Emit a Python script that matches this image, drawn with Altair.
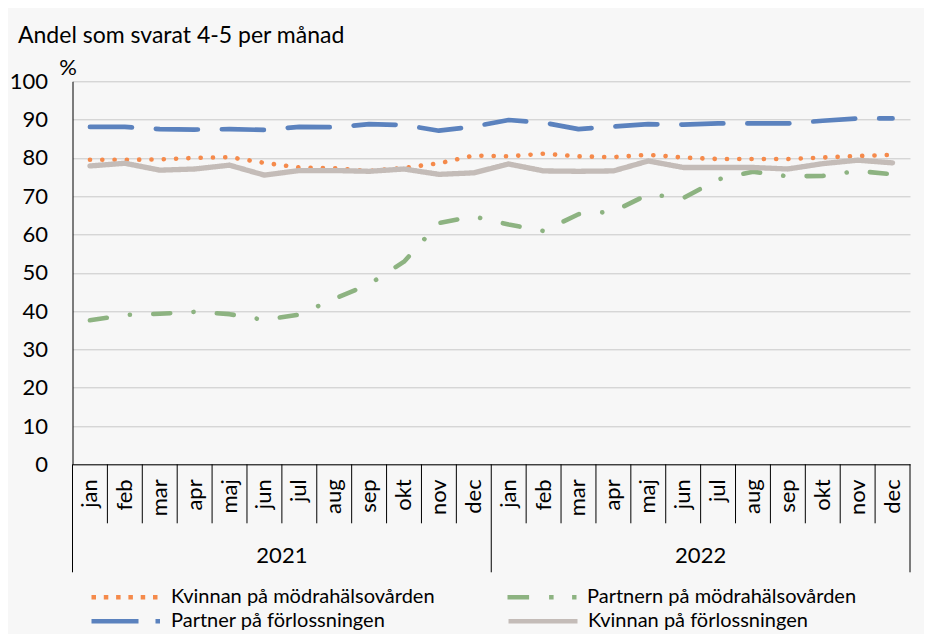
import altair as alt
import pandas as pd

FONT = "Lato"

months = ["jan", "feb", "mar", "apr", "maj", "jun", "jul", "aug", "sep", "okt", "nov", "dec"]
years = ["2021", "2022"]
series_names = [
    "Kvinnan på mödrahälsovården",
    "Partnern på mödrahälsovården",
    "Partner på förlossningen",
    "Kvinnan på förlossningen",
]

kvinnan_modra = [79.5, 79.5, 79.6, 80.0, 80.2, 78.7, 77.5, 77.3, 76.6, 77.4, 78.6, 80.6,
                 80.4, 81.1, 80.4, 80.2, 80.8, 80.1, 79.7, 79.7, 79.7, 80.1, 80.5, 80.8]
partnern_modra = [37.6, 39.0, 39.3, 39.8, 39.2, 37.7, 39.1, 43.2, 47.0, 52.9, 63.0, 64.7,
                  62.6, 60.9, 65.3, 66.0, 70.5, 69.5, 74.4, 76.4, 75.2, 75.3, 76.6, 75.7]
partner_forl = [88.1, 88.1, 87.5, 87.4, 87.5, 87.3, 88.1, 88.0, 88.8, 88.6, 87.1, 88.2,
                89.9, 89.2, 87.5, 88.2, 88.8, 88.7, 89.0, 89.0, 89.0, 89.7, 90.3, 90.3]
kvinnan_forl = [77.9, 78.6, 76.8, 77.1, 78.1, 75.5, 76.7, 76.7, 76.5, 77.1, 75.7, 76.1,
                78.4, 76.6, 76.5, 76.6, 79.2, 77.5, 77.5, 77.5, 77.1, 78.5, 79.4, 78.7]

series_values = [kvinnan_modra, partnern_modra, partner_forl, kvinnan_forl]

colors = ["#f58a4b", "#8db381", "#5b82be", "#c4bcb8"]
line_dashes = [[0.1, 12.2], [17, 23.3, 0.1, 23.3], [42, 24], [1, 0]]
line_widths = [4.6, 4.6, 4.7, 5.3]
legend_dashes = [[4.5, 7.8], [21.6, 20, 4.5, 18.5, 4.5, 100], [47, 17, 4.5, 100], [1, 0]]

title_text = "Andel som svarat 4-5 per månad"
unit_text = "%"

n = len(months) * len(years)

x_enc = alt.X(
    "pos:Q",
    scale=alt.Scale(domain=[0, n], nice=False, zero=False),
    axis=alt.Axis(labels=False, ticks=False, grid=False, domainColor="#000000",
                  domainWidth=1, title=None),
)
y_enc = alt.Y(
    "value:Q",
    scale=alt.Scale(domain=[0, 100], nice=False),
    axis=alt.Axis(values=list(range(0, 101, 10)), title=None, grid=True,
                  gridColor="#c8c8c8", gridWidth=1, domainColor="#000000",
                  ticks=False, labelPadding=25, labelFont=FONT, labelFontSize=22,
                  labelColor="#000000"),
)

layers = []
for i, name in enumerate(series_names):
    df = pd.DataFrame({"pos": [k + 0.5 for k in range(n)],
                       "value": series_values[i],
                       "series": [name] * n})
    layers.append(
        alt.Chart(df).mark_line(
            color=colors[i], strokeWidth=line_widths[i], strokeDash=line_dashes[i],
            strokeCap="round", strokeJoin="round"
        ).encode(x=x_enc, y=y_enc)
    )


def legend_layer(idx, legend_y, col_pad):
    names = [series_names[j] for j in idx]
    df_leg = pd.DataFrame({"pos": [0.5], "value": [0.0], "series": [names[0]]})
    leg = alt.Legend(
        orient="none", legendX=16.5, legendY=legend_y, direction="horizontal",
        symbolType="stroke", symbolSize=4761, symbolStrokeWidth=4.5,
        labelFont=FONT, labelFontSize=20, labelColor="#000000", labelLimit=600,
        labelOffset=8, columnPadding=col_pad, title=None, padding=0,
    )
    return alt.Chart(df_leg).transform_filter("false").mark_line().encode(
        x=x_enc, y=y_enc,
        color=alt.Color("series:N",
                        scale=alt.Scale(domain=names, range=[colors[j] for j in idx]),
                        legend=leg),
        strokeDash=alt.StrokeDash("series:N",
                                  scale=alt.Scale(domain=names,
                                                  range=[legend_dashes[j] for j in idx]),
                                  legend=leg),
    )


legend_row1 = legend_layer([0, 1], 479, 63)
legend_row2 = legend_layer([2, 3], 503, 113)

# month separators and year separators
df_sep = pd.DataFrame({"pos": list(range(n + 1))})
df_sep["long"] = df_sep["pos"] % 12 == 0
seps_short = (alt.Chart(df_sep).transform_filter("!datum.long")
              .mark_rule(color="#000000", strokeWidth=1)
              .encode(x=x_enc, y=alt.value(383), y2=alt.value(442)))
seps_long = (alt.Chart(df_sep).transform_filter("datum.long")
             .mark_rule(color="#000000", strokeWidth=1)
             .encode(x=x_enc, y=alt.value(383), y2=alt.value(491)))

# month labels
df_months = pd.DataFrame({"pos": [k + 0.5 for k in range(n)],
                          "label": [months[k % 12] for k in range(n)]})
month_text = (alt.Chart(df_months)
              .mark_text(angle=270, align="right", baseline="middle",
                         font=FONT, fontSize=22, color="#000000")
              .encode(x=x_enc, y=alt.value(398), text="label:N"))

# year labels
df_years = pd.DataFrame({"pos": [6, 18], "label": years})
year_text = (alt.Chart(df_years)
             .mark_text(align="center", baseline="middle",
                        font=FONT, fontSize=22, color="#000000")
             .encode(x=x_enc, y=alt.value(475), text="label:N"))

# title and unit
df_title = pd.DataFrame({"t": [title_text]})
title_mark = (alt.Chart(df_title)
              .mark_text(align="left", baseline="alphabetic",
                         font=FONT, fontSize=23, color="#000000")
              .encode(x=alt.value(-54.5), y=alt.value(-38.3), text="t:N"))
df_unit = pd.DataFrame({"t": [unit_text]})
unit_mark = (alt.Chart(df_unit)
             .mark_text(align="center", baseline="middle",
                        font=FONT, fontSize=22, color="#000000")
             .encode(x=alt.value(-4.5), y=alt.value(-13), text="t:N"))

chart = alt.layer(
    *layers, legend_row1, legend_row2, seps_short, seps_long,
    month_text, year_text, title_mark, unit_mark
).resolve_scale(color="independent", strokeDash="independent").properties(
    width=837.5, height=383,
    autosize=alt.AutoSizeParams(type="none"),
    padding={"left": 64.5, "top": 73.3, "right": 14, "bottom": 169.7},
).configure(background="#f7f7f7").configure_view(strokeWidth=0)

chart.save("out.html", embed_options={"renderer": "svg", "actions": False})
